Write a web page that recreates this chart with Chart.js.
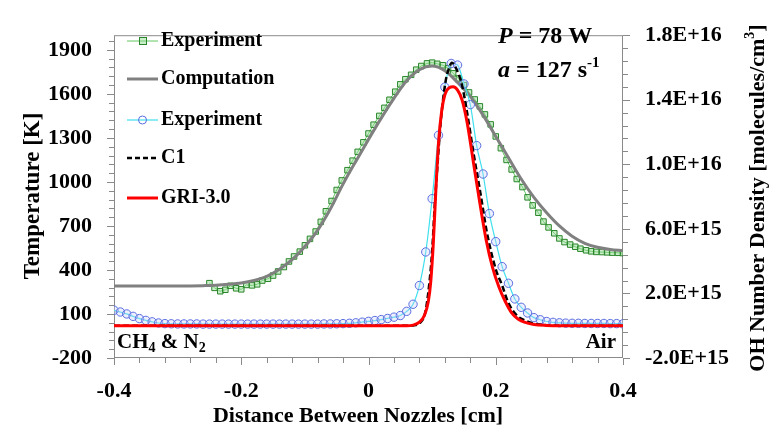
<!DOCTYPE html>
<html lang="en">
<head>
<meta charset="utf-8">
<title>Temperature and OH profiles</title>
<script src="https://cdn.jsdelivr.net/npm/chart.js@4.4.0/dist/chart.umd.min.js"></script>
<style>
  body { margin: 0; background: #fff; }
  #wrap { width: 780px; height: 429px; }
</style>
</head>
<body>
<div id="wrap"><canvas id="chart" width="780" height="429"></canvas></div>
<script>
// temperature, experiment (green squares)
const tempExpX = [-0.250, -0.242, -0.233, -0.225, -0.217, -0.208, -0.200, -0.192, -0.183, -0.175,
  -0.167, -0.158, -0.150, -0.142, -0.133, -0.125, -0.117, -0.108, -0.100, -0.092,
  -0.083, -0.075, -0.067, -0.058, -0.050, -0.042, -0.033, -0.025, -0.017, -0.008,
  0.000, 0.008, 0.017, 0.025, 0.033, 0.042, 0.050, 0.058, 0.067, 0.075,
  0.083, 0.092, 0.100, 0.108, 0.117, 0.125, 0.133, 0.142, 0.150, 0.158,
  0.167, 0.175, 0.183, 0.192, 0.200, 0.208, 0.217, 0.225, 0.233, 0.242,
  0.250, 0.258, 0.267, 0.275, 0.283, 0.292, 0.300, 0.308, 0.317, 0.325,
  0.333, 0.342, 0.350, 0.358, 0.367, 0.375, 0.383, 0.392, 0.400];
const tempExpY = [310, 278, 255, 265, 292, 275, 268, 298, 295, 302,
  328, 340, 362, 390, 420, 458, 492, 525, 568, 612,
  662, 728, 800, 870, 945, 1010, 1080, 1145, 1205, 1270,
  1330, 1390, 1450, 1505, 1560, 1615, 1665, 1700, 1730, 1765,
  1790, 1808, 1813, 1805, 1795, 1775, 1740, 1705, 1660, 1610,
  1562, 1515, 1460, 1392, 1310, 1230, 1150, 1085, 1020, 965,
  895, 840, 790, 730, 690, 650, 615, 590, 573, 558,
  545, 534, 527, 523, 522, 520, 518, 517, 515];

// temperature, computation (grey line)
const tempCompX = [-0.40, -0.36, -0.32, -0.28, -0.26, -0.24, -0.22, -0.20, -0.18, -0.16,
  -0.14, -0.12, -0.10, -0.08, -0.06, -0.04, -0.02, 0.00, 0.02, 0.04,
  0.06, 0.08, 0.10, 0.12, 0.14, 0.16, 0.18, 0.20, 0.22, 0.24,
  0.26, 0.28, 0.30, 0.32, 0.34, 0.36, 0.38, 0.40];
const tempCompY = [290, 290, 290, 291, 293, 296, 302, 311, 328, 356,
  405, 470, 560, 670, 815, 985, 1140, 1290, 1435, 1570,
  1690, 1765, 1790, 1758, 1678, 1583, 1455, 1310, 1165, 1020,
  895, 790, 700, 630, 582, 555, 540, 532];

// OH number density, experiment (blue circles, cyan line)
const ohExpX = [-0.40, -0.39, -0.38, -0.37, -0.36, -0.35, -0.34, -0.33, -0.32, -0.31,
  -0.30, -0.29, -0.28, -0.27, -0.26, -0.25, -0.24, -0.23, -0.22, -0.21,
  -0.20, -0.19, -0.18, -0.17, -0.16, -0.15, -0.14, -0.13, -0.12, -0.11,
  -0.10, -0.09, -0.08, -0.07, -0.06, -0.05, -0.04, -0.03, -0.02, -0.01,
  0.00, 0.01, 0.02, 0.03, 0.04, 0.05, 0.06, 0.07, 0.08, 0.09,
  0.10, 0.11, 0.12, 0.13, 0.14, 0.15, 0.16, 0.17, 0.18, 0.19,
  0.20, 0.21, 0.22, 0.23, 0.24, 0.25, 0.26, 0.27, 0.28, 0.29,
  0.30, 0.31, 0.32, 0.33, 0.34, 0.35, 0.36, 0.37, 0.38, 0.39, 0.40];
const ohExpY = [9.6e14, 8.5e14, 7.3e14, 5.8e14, 4.4e14, 3.3e14, 2.4e14, 1.7e14, 1.3e14, 1.2e14,
  1.1e14, 1.1e14, 1.1e14, 1.1e14, 1.0e14, 1.0e14, 1.0e14, 1.0e14, 1.0e14, 1.0e14,
  1.0e14, 1.0e14, 1.0e14, 1.0e14, 1.0e14, 1.0e14, 1.0e14, 1.0e14, 1.0e14, 1.0e14,
  1.0e14, 1.0e14, 1.0e14, 1.1e14, 1.1e14, 1.2e14, 1.3e14, 1.5e14, 1.8e14, 2.2e14,
  2.7e14, 3.2e14, 3.8e14, 4.5e14, 5.3e14, 6.3e14, 8.9e14, 1.33e15, 2.49e15, 4.57e15,
  7.87e15, 1.18e16, 1.478e16, 1.625e16, 1.615e16, 1.498e16, 1.37e16, 1.116e16, 9.4e15, 6.95e15,
  5.21e15, 3.66e15, 2.63e15, 1.66e15, 1.14e15, 7.9e14, 5.0e14, 3.7e14, 2.6e14, 2.1e14,
  1.8e14, 1.6e14, 1.5e14, 1.5e14, 1.4e14, 1.4e14, 1.4e14, 1.4e14, 1.3e14, 1.3e14, 1.2e14];

// OH number density, C1 mechanism (black dashed)
const c1X = [-0.40, -0.20, 0.00, 0.05, 0.06, 0.07, 0.08, 0.089, 0.095, 0.100,
  0.104, 0.108, 0.113, 0.121, 0.127, 0.131, 0.137, 0.147, 0.155, 0.165,
  0.176, 0.186, 0.200, 0.210, 0.220, 0.234, 0.247, 0.262, 0.280, 0.300, 0.350, 0.400];
const c1Y = [0, 0, 0, 0, 0, 2e13, 1.5e14, 7.9e14, 2.4e15, 4.6e15,
  7.4e15, 9.7e15, 1.24e16, 1.51e16, 1.6e16, 1.63e16, 1.60e16, 1.49e16, 1.32e16, 1.07e16,
  8.2e15, 5.8e15, 3.5e15, 2.5e15, 1.4e15, 6e14, 3.1e14, 1.1e14, 3e13, 0, 0, 0];

// OH number density, GRI-3.0 (red)
const griX = [-0.40, -0.20, 0.00, 0.05, 0.06, 0.07, 0.08, 0.088, 0.094, 0.098,
  0.102, 0.106, 0.110, 0.115, 0.120, 0.127, 0.133, 0.140, 0.147, 0.155,
  0.165, 0.175, 0.185, 0.195, 0.205, 0.215, 0.225, 0.235, 0.245, 0.260,
  0.280, 0.300, 0.350, 0.400];
const griY = [0, 0, 0, 0, 0, 4e13, 2.2e14, 6.5e14, 1.5e15, 2.8e15,
  5.2e15, 8.5e15, 1.13e16, 1.33e16, 1.43e16, 1.475e16, 1.48e16, 1.46e16, 1.40e16, 1.26e16,
  1.01e16, 7.6e15, 5.3e15, 3.6e15, 2.4e15, 1.5e15, 8e14, 4.2e14, 2.2e14, 8e13,
  2e13, 0, 0, 0];

const distTicks = [-0.4, -0.2, 0, 0.2, 0.4];
const tempTicks = [-200, 100, 400, 700, 1000, 1300, 1600, 1900];
const ohTicks = [-2e15, 2e15, 6e15, 1e16, 1.4e16, 1.8e16];

const serif = '"Liberation Serif", "Times New Roman", serif';
const boxColor = '#8a8a8a';

function pts(xs, ys) {
  return xs.map((x, i) => ({ x: x, y: ys[i] }));
}

// draw a run of text pieces with different fonts / offsets, returns end x
function drawRuns(ctx, x, y, parts) {
  parts.forEach(p => {
    ctx.font = p.f;
    ctx.fillText(p.t, x, y + (p.dy || 0));
    x += ctx.measureText(p.t).width;
  });
  return x;
}
function runsWidth(ctx, parts) {
  let w = 0;
  parts.forEach(p => { ctx.font = p.f; w += ctx.measureText(p.t).width; });
  return w;
}

const B = s => 'bold ' + s + 'px ' + serif;
const BI = s => 'italic bold ' + s + 'px ' + serif;

const decor = {
  id: 'decor',
  beforeDatasetsDraw(chart) {
    const ctx = chart.ctx, a = chart.chartArea;
    const sx = chart.scales.x, sy = chart.scales.y, sy2 = chart.scales.y2;
    ctx.save();
    ctx.strokeStyle = boxColor;
    ctx.lineWidth = 1;
    ctx.strokeRect(a.left + 0.5, a.top + 0.5, a.right - a.left - 1, a.bottom - a.top - 1);
    ctx.beginPath();
    // x ticks every 0.04
    for (let k = 0; k <= 20; k++) {
      const v = -0.4 + k * 0.04;
      const px = Math.round(sx.getPixelForValue(v)) + 0.5;
      const len = (k % 5 === 0) ? 7 : 5;
      ctx.moveTo(px, a.bottom);
      ctx.lineTo(px, a.bottom + len);
    }
    // left ticks every 60 K
    for (let k = 0; k <= 36; k++) {
      const v = -200 + k * 60;
      const py = Math.round(sy.getPixelForValue(v)) + 0.5;
      const len = (k % 5 === 0) ? 7 : 5;
      ctx.moveTo(a.left, py);
      ctx.lineTo(a.left - len, py);
    }
    // right ticks every 8E+14
    for (let k = 0; k <= 25; k++) {
      const v = -2e15 + k * 8e14;
      const py = Math.round(sy2.getPixelForValue(v)) + 0.5;
      const len = (k % 5 === 0) ? 7 : 5;
      ctx.moveTo(a.right, py);
      ctx.lineTo(a.right + len, py);
    }
    ctx.stroke();
    ctx.restore();
  },
  afterDraw(chart) {
    const ctx = chart.ctx;
    ctx.save();
    ctx.fillStyle = '#000';
    ctx.textBaseline = 'middle';
    ctx.textAlign = 'left';

    // legend
    const lx0 = 127, lx1 = 158, tx = 161;
    const rows = [
      { y: 41, label: 'Experiment' },
      { y: 79, label: 'Computation' },
      { y: 120, label: 'Experiment' },
      { y: 158, label: 'C1' },
      { y: 198, label: 'GRI-3.0' }
    ];
    const line = (y, color, w, dash) => {
      ctx.save();
      ctx.strokeStyle = color; ctx.lineWidth = w; ctx.setLineDash(dash || []);
      ctx.beginPath(); ctx.moveTo(lx0, y); ctx.lineTo(lx1, y); ctx.stroke();
      ctx.restore();
    };
    line(rows[0].y, '#62c862', 1);
    ctx.save();
    ctx.strokeStyle = '#2a862a'; ctx.fillStyle = 'rgba(140,215,140,0.45)'; ctx.lineWidth = 1;
    ctx.fillRect(139, rows[0].y - 3, 7, 7); ctx.strokeRect(139.5, rows[0].y - 3.5, 7, 7);
    ctx.restore();
    line(rows[1].y, '#808080', 3);
    line(rows[2].y, '#3fe0ee', 1.2);
    ctx.save();
    ctx.strokeStyle = '#5a6de0'; ctx.lineWidth = 1;
    ctx.beginPath(); ctx.arc(142.5, rows[2].y, 4, 0, Math.PI * 2); ctx.stroke();
    ctx.restore();
    line(rows[3].y, '#000', 2.5, [5, 3]);
    line(rows[4].y, '#ff0000', 3);
    ctx.font = B(20);
    rows.forEach(r => ctx.fillText(r.label, tx, r.y));

    // flame conditions
    drawRuns(ctx, 498, 37, [{ t: 'P', f: BI(24) }, { t: ' = 78 W', f: B(24) }]);
    drawRuns(ctx, 498, 71, [{ t: 'a', f: BI(24) }, { t: ' = 127 s', f: B(24) },
      { t: '-1', f: B(15), dy: -8 }]);

    // nozzle sides
    drawRuns(ctx, 117, 343, [{ t: 'CH', f: B(21) }, { t: '4', f: B(14), dy: 5 },
      { t: ' & N', f: B(21) }, { t: '2', f: B(14), dy: 5 }]);
    ctx.font = B(21);
    ctx.textAlign = 'right';
    ctx.fillText('Air', 616, 343);

    // axis titles
    ctx.textAlign = 'center';
    ctx.font = B(22);
    ctx.fillText('Distance Between Nozzles [cm]', 358, 416);

    ctx.save();
    ctx.translate(33, 196);
    ctx.rotate(-Math.PI / 2);
    ctx.font = B(23);
    ctx.fillText('Temperature [K]', 0, 0);
    ctx.restore();

    ctx.save();
    ctx.translate(758, 198);
    ctx.rotate(-Math.PI / 2);
    ctx.textAlign = 'left';
    const parts = [{ t: 'OH Number Density [molecules/cm', f: B(22) },
      { t: '3', f: B(14), dy: -8 }, { t: ']', f: B(22) }];
    drawRuns(ctx, -runsWidth(ctx, parts) / 2, 0, parts);
    ctx.restore();

    ctx.restore();
  }
};

const tickFont = { family: serif, size: 22, weight: 'bold' };

new Chart(document.getElementById('chart'), {
  type: 'scatter',
  data: {
    datasets: [
      {
        label: 'GRI-3.0', data: pts(griX, griY), yAxisID: 'y2', order: 1,
        showLine: true, borderColor: '#ff0000', borderWidth: 3, pointRadius: 0,
        cubicInterpolationMode: 'monotone'
      },
      {
        label: 'C1', data: pts(c1X, c1Y), yAxisID: 'y2', order: 2,
        showLine: true, borderColor: '#000000', borderWidth: 2.5, borderDash: [6, 3],
        pointRadius: 0, cubicInterpolationMode: 'monotone'
      },
      {
        label: 'Experiment', data: pts(ohExpX, ohExpY), yAxisID: 'y2', order: 3,
        showLine: true, borderColor: '#3fe0ee', borderWidth: 1.2,
        pointStyle: 'circle', pointRadius: 4.2, pointBorderWidth: 1,
        pointBorderColor: '#5a6de0', pointBackgroundColor: 'rgba(200,210,250,0.35)',
        cubicInterpolationMode: 'monotone'
      },
      {
        label: 'Computation', data: pts(tempCompX, tempCompY), yAxisID: 'y', order: 4,
        showLine: true, borderColor: '#808080', borderWidth: 3, pointRadius: 0,
        cubicInterpolationMode: 'monotone'
      },
      {
        label: 'Experiment', data: pts(tempExpX, tempExpY), yAxisID: 'y', order: 5,
        showLine: true, borderColor: '#62c862', borderWidth: 1,
        pointStyle: 'rect', pointRadius: 3.9, pointBorderWidth: 1,
        pointBorderColor: '#2a862a', pointBackgroundColor: 'rgba(140,215,140,0.45)'
      }
    ]
  },
  options: {
    responsive: false,
    animation: false,
    devicePixelRatio: 1,
    layout: { padding: { top: 14, left: 0, right: 0, bottom: 0 } },
    plugins: { legend: { display: false }, tooltip: { enabled: false } },
    scales: {
      x: {
        type: 'linear', min: -0.4, max: 0.4,
        afterBuildTicks: s => { s.ticks = distTicks.map(v => ({ value: v })); },
        afterFit: s => { s.height = 71; },
        grid: { display: false, drawTicks: false }, border: { display: false },
        ticks: { padding: 20, font: tickFont, color: '#000', maxRotation: 0, autoSkip: false,
          callback: v => String(Math.round(v * 10) / 10) }
      },
      y: {
        type: 'linear', position: 'left', min: -200, max: 2000,
        afterBuildTicks: s => { s.ticks = tempTicks.map(v => ({ value: v })); },
        afterFit: s => { s.width = 114; },
        grid: { display: false, drawTicks: false }, border: { display: false },
        ticks: { padding: 22, font: tickFont, color: '#000', autoSkip: false, callback: v => String(v) }
      },
      y2: {
        type: 'linear', position: 'right', min: -2e15, max: 1.8e16,
        afterBuildTicks: s => { s.ticks = ohTicks.map(v => ({ value: v })); },
        afterFit: s => { s.width = 157; },
        grid: { display: false, drawTicks: false }, border: { display: false },
        ticks: { padding: 22, font: tickFont, color: '#000', autoSkip: false,
          callback: v => v.toExponential(1).toUpperCase() }
      }
    }
  },
  plugins: [decor]
});
</script>
</body>
</html>
